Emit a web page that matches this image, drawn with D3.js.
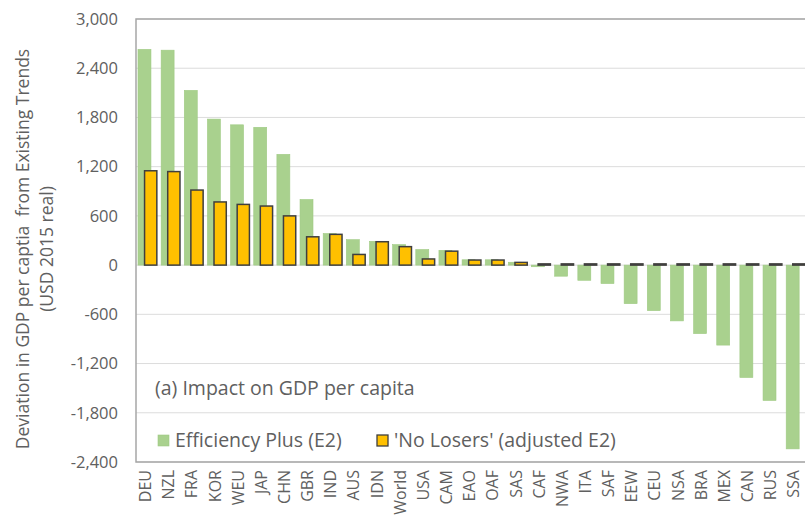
<!DOCTYPE html>
<html>
<head>
<meta charset="utf-8">
<script src="https://cdn.jsdelivr.net/npm/d3@7/dist/d3.min.js"></script>
<style>
  html, body { margin: 0; padding: 0; background: #ffffff; }
  svg { display: block; font-family: "Open Sans", sans-serif; }
</style>
</head>
<body>
<svg id="chart" width="805" height="516"></svg>
<script>
// Regions, ordered by the Efficiency Plus (E2) result
const regions = ["DEU","NZL","FRA","KOR","WEU","JAP","CHN","GBR","IND","AUS","IDN","World","USA","CAM",
                 "EAO","OAF","SAS","CAF","NWA","ITA","SAF","EEW","CEU","NSA","BRA","MEX","CAN","RUS","SSA"];

// Deviation in GDP per capita from Existing Trends (USD 2015 real)
const efficiencyPlus = [2630, 2620, 2130, 1780, 1710, 1680, 1350, 800, 385, 310, 290, 250, 190, 180,
                        65, 65, 35, -20, -135, -185, -225, -470, -555, -680, -835, -975, -1370, -1650, -2240];
const noLosers = [1150, 1140, 915, 770, 740, 720, 600, 345, 375, 130, 285, 225, 75, 170,
                  62, 62, 33, 15, 15, 15, 15, 15, 15, 15, 15, 15, 15, 15, 15];

const yTicks = [-2400, -1800, -1200, -600, 0, 600, 1200, 1800, 2400, 3000];

const seriesNames = ["Efficiency Plus (E2)", "'No Losers' (adjusted E2)"];
const panelTitle = "(a) Impact on GDP per capita";
const yTitle = ["Deviation in GDP per captia  from Existing Trends", "(USD 2015 real)"];

const textColor = "#606060";
const green = "#a9d18e";
const yellow = "#ffc000";

const svg = d3.select("#chart");

const plot = { left: 136, right: 810, top: 19, bottom: 462 };

const x = d3.scaleBand()
  .domain(regions)
  .range([plot.left, plot.left + regions.length * 23.15])
  .paddingInner(0).paddingOuter(0);

const y = d3.scaleLinear()
  .domain([-2400, 3000])
  .range([plot.bottom, plot.top]);

const fmt = d3.formatLocale({ decimal: ".", thousands: ",", grouping: [3], currency: ["", ""], minus: "-" }).format(",");

// gridlines
svg.append("g")
  .selectAll("line")
  .data(yTicks)
  .join("line")
  .attr("x1", plot.left).attr("x2", plot.right)
  .attr("y1", d => y(d)).attr("y2", d => y(d))
  .attr("stroke", "#dcdcdc").attr("stroke-width", 1);

// y-axis tick labels
const yAxis = d3.axisLeft(y).tickValues(yTicks).tickFormat(fmt).tickSize(0).tickPadding(0);
const gy = svg.append("g").attr("transform", "translate(118,0)").call(yAxis);
gy.select(".domain").remove();
gy.selectAll("text")
  .attr("fill", textColor)
  .style("font-family", "'Open Sans', sans-serif")
  .style("font-size", "16.5px");

// bars
const bw = x.bandwidth();
const zero = y(0);

svg.append("g")
  .selectAll("rect")
  .data(regions.map((r, i) => ({ r, v: efficiencyPlus[i] })))
  .join("rect")
  .attr("x", d => x(d.r) + bw * 0.086)
  .attr("width", bw * 0.56)
  .attr("y", d => Math.min(y(d.v), zero))
  .attr("height", d => Math.abs(y(d.v) - zero))
  .attr("fill", green)
  .attr("stroke", "#9fca83")
  .attr("stroke-width", 0.6);

svg.append("g")
  .selectAll("rect")
  .data(regions.map((r, i) => ({ r, v: noLosers[i] })))
  .join("rect")
  .attr("x", d => x(d.r) + bw * 0.37)
  .attr("width", bw * 0.53)
  .attr("y", d => Math.min(y(d.v), zero))
  .attr("height", d => Math.abs(y(d.v) - zero))
  .attr("fill", yellow)
  .attr("stroke", "#3f3f3f")
  .attr("stroke-width", 1.5);

// plot frame
svg.append("rect")
  .attr("x", plot.left).attr("y", plot.top)
  .attr("width", plot.right - plot.left)
  .attr("height", plot.bottom - plot.top)
  .attr("fill", "none")
  .attr("stroke", "#a6a6a6")
  .attr("stroke-width", 1.5);

// x-axis category labels
const xAxis = d3.axisBottom(x).tickSize(0).tickPadding(0);
const gx = svg.append("g").attr("transform", "translate(0,470)").call(xAxis);
gx.select(".domain").remove();
gx.selectAll("text")
  .attr("fill", textColor)
  .style("font-family", "'Open Sans', sans-serif")
  .style("font-size", "16px")
  .attr("text-anchor", "end")
  .attr("transform", "rotate(-90)")
  .attr("x", 0).attr("y", 0)
  .attr("dy", "0.22em");

// y-axis title
const yt = svg.append("g")
  .attr("fill", textColor)
  .style("font-size", "17.5px");
yt.append("text")
  .attr("transform", "translate(23,249) rotate(-90)")
  .attr("text-anchor", "middle")
  .attr("dy", "0.36em")
  .attr("xml:space", "preserve")
  .style("white-space", "pre")
  .text(yTitle[0]);
yt.append("text")
  .attr("transform", "translate(47,249) rotate(-90)")
  .attr("text-anchor", "middle")
  .attr("dy", "0.36em")
  .text(yTitle[1]);

// panel title
svg.append("text")
  .attr("x", 155).attr("y", 395)
  .attr("fill", textColor)
  .style("font-size", "19.5px")
  .text(panelTitle);

// legend
const legend = svg.append("g").attr("transform", "translate(158,447)");
const legendItems = [
  { name: seriesNames[0], fill: green, stroke: "#9fca83", sw: 0.6, dx: 0 },
  { name: seriesNames[1], fill: yellow, stroke: "#3f3f3f", sw: 1.3, dx: 219 }
];
const li = legend.selectAll("g").data(legendItems).join("g")
  .attr("transform", d => `translate(${d.dx},0)`);
li.append("rect")
  .attr("x", 0).attr("y", -12)
  .attr("width", 11).attr("height", 11)
  .attr("fill", d => d.fill)
  .attr("stroke", d => d.stroke)
  .attr("stroke-width", d => d.sw);
li.append("text")
  .attr("x", 17).attr("y", 0)
  .attr("fill", textColor)
  .style("font-size", "19.5px")
  .text(d => d.name);
</script>
</body>
</html>
